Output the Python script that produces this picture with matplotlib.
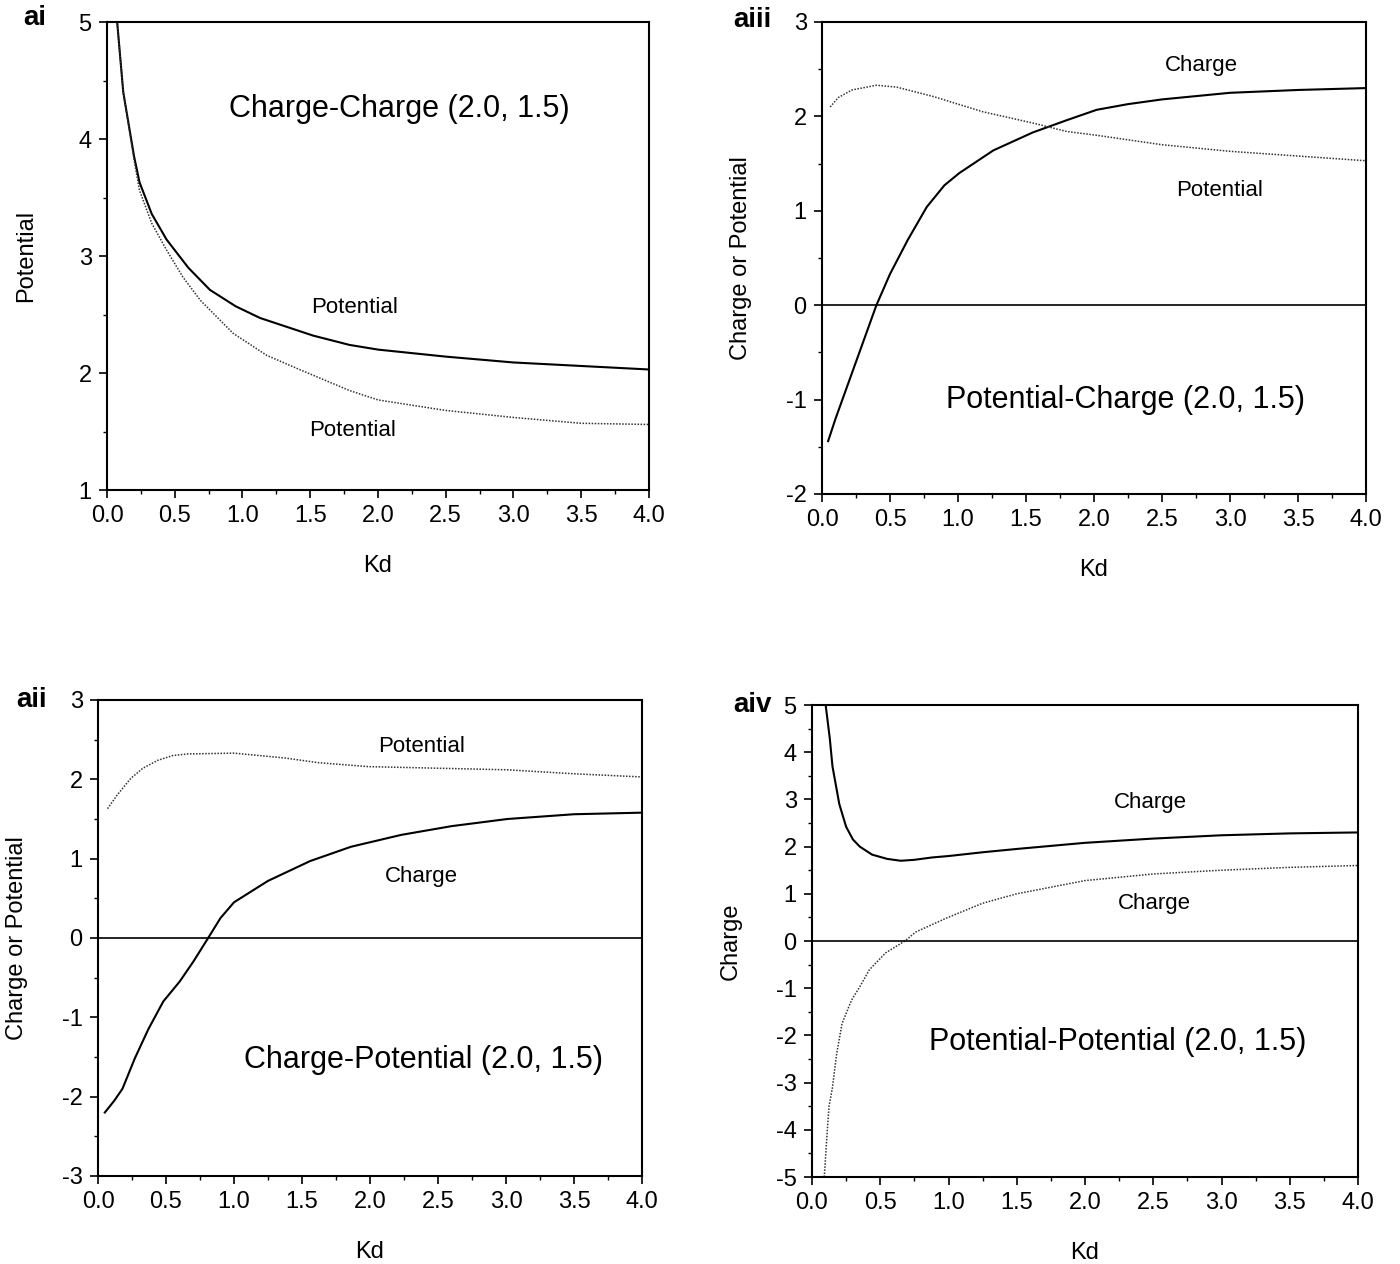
import numpy as np
import matplotlib
matplotlib.use("Agg")
import matplotlib.pyplot as plt
from matplotlib.ticker import MultipleLocator, FormatStrFormatter

plt.rcParams['font.family'] = ['Liberation Sans', 'DejaVu Sans']
plt.rcParams['axes.unicode_minus'] = False

# ai : Charge-Charge
ai_kd_solid = [0.075, 0.12, 0.2, 0.24, 0.33, 0.44, 0.6, 0.76, 0.95, 1.13, 1.52, 1.79, 2.0, 2.5, 3.0, 3.5, 4.0]
ai_pot_solid = [5.0, 4.4, 3.85, 3.63, 3.36, 3.14, 2.9, 2.71, 2.57, 2.47, 2.32, 2.24, 2.2, 2.14, 2.09, 2.06, 2.03]
ai_kd_dot = [0.075, 0.12, 0.2, 0.24, 0.33, 0.44, 0.56, 0.69, 0.93, 1.18, 1.42, 1.79, 2.0, 2.5, 3.0, 3.5, 4.0]
ai_pot_dot = [5.0, 4.4, 3.82, 3.56, 3.28, 3.05, 2.82, 2.62, 2.34, 2.15, 2.03, 1.85, 1.77, 1.68, 1.62, 1.57, 1.56]

# aiii : Potential-Charge
aiii_kd_charge = [0.045, 0.1, 0.2, 0.3, 0.4, 0.5, 0.63, 0.77, 0.9, 1.01, 1.26, 1.55, 1.8, 2.02, 2.25, 2.5, 3.0, 3.5, 4.0]
aiii_charge = [-1.44, -1.2, -0.8, -0.4, 0.0, 0.33, 0.69, 1.04, 1.27, 1.4, 1.64, 1.83, 1.96, 2.07, 2.13, 2.18, 2.25, 2.28, 2.3]
aiii_kd_pot = [0.06, 0.12, 0.22, 0.4, 0.55, 0.82, 1.0, 1.18, 1.55, 1.8, 2.02, 2.5, 3.0, 3.5, 4.0]
aiii_pot = [2.1, 2.2, 2.28, 2.33, 2.31, 2.21, 2.13, 2.05, 1.93, 1.84, 1.8, 1.7, 1.63, 1.58, 1.53]

# aii : Charge-Potential
aii_kd_pot = [0.07, 0.14, 0.24, 0.33, 0.44, 0.55, 0.66, 1.0, 1.37, 1.62, 1.99, 2.5, 3.01, 3.5, 4.0]
aii_pot = [1.63, 1.8, 2.01, 2.14, 2.24, 2.3, 2.32, 2.33, 2.27, 2.21, 2.16, 2.14, 2.12, 2.07, 2.03]
aii_kd_charge = [0.05, 0.12, 0.18, 0.27, 0.37, 0.48, 0.6, 0.7, 0.81, 0.9, 1.0, 1.25, 1.56, 1.86, 2.23, 2.6, 3.01, 3.5, 4.0]
aii_charge = [-2.2, -2.05, -1.9, -1.52, -1.15, -0.8, -0.55, -0.3, 0.0, 0.25, 0.45, 0.72, 0.97, 1.15, 1.3, 1.41, 1.5, 1.56, 1.58]

# aiv : Potential-Potential
aiv_kd_solid = [0.1, 0.13, 0.15, 0.2, 0.25, 0.3, 0.35, 0.44, 0.55, 0.65, 0.75, 0.88, 1.0, 1.25, 1.5, 2.0, 2.5, 3.0, 3.5, 4.0]
aiv_charge_solid = [5.0, 4.3, 3.7, 2.9, 2.42, 2.15, 2.0, 1.83, 1.74, 1.7, 1.72, 1.77, 1.8, 1.88, 1.95, 2.08, 2.17, 2.24, 2.28, 2.3]
aiv_kd_dot = [0.09, 0.11, 0.125, 0.15, 0.18, 0.22, 0.29, 0.35, 0.42, 0.54, 0.68, 0.76, 0.98, 1.25, 1.5, 2.0, 2.5, 3.0, 3.5, 4.0]
aiv_charge_dot = [-5.0, -4.1, -3.5, -3.1, -2.4, -1.75, -1.25, -0.97, -0.61, -0.25, 0.0, 0.19, 0.48, 0.8, 1.0, 1.28, 1.42, 1.5, 1.56, 1.6]

fig = plt.figure(figsize=(14, 12.64), dpi=100)

dot_style = dict(color='#333333', lw=1.1, linestyle=(0, (1, 1)))
solid_style = dict(color='black', lw=1.5)


def setup(ax, ylo, yhi, ylabel, width_px):
    ax.set_xlim(0, 4)
    ax.set_ylim(ylo, yhi)
    ax.xaxis.set_major_locator(MultipleLocator(0.5))
    ax.xaxis.set_minor_locator(MultipleLocator(0.25))
    ax.yaxis.set_major_locator(MultipleLocator(1))
    ax.yaxis.set_minor_locator(MultipleLocator(0.5))
    ax.xaxis.set_major_formatter(FormatStrFormatter('%.1f'))
    ax.tick_params(which='major', direction='out', length=6, width=1.2, labelsize=17, pad=5)
    ax.tick_params(which='minor', direction='out', length=3, width=1.0)
    for s in ax.spines.values():
        s.set_linewidth(1.5)
    ax.set_xlabel('Kd', fontsize=17, labelpad=20)
    ax.set_ylabel(ylabel, fontsize=17)
    # right edge of the rotated label sits ~70 px left of the axis
    ax.yaxis.set_label_coords(-70 / width_px, 0.5)


# ai
ax1 = fig.add_axes([107 / 1400, 1 - 490 / 1264, 542 / 1400, 468 / 1264])
ax1.plot(ai_kd_solid, ai_pot_solid, **solid_style)
ax1.plot(ai_kd_dot, ai_pot_dot, **dot_style)
setup(ax1, 1, 5, 'Potential', 542)
ax1.text(2.16, 4.26, 'Charge-Charge (2.0, 1.5)', fontsize=22, ha='center', va='center')
ax1.text(1.83, 2.56, 'Potential', fontsize=16, ha='center', va='center')
ax1.text(1.81, 1.51, 'Potential', fontsize=16, ha='center', va='center')

# aiii
ax3 = fig.add_axes([822 / 1400, 1 - 494 / 1264, 544 / 1400, 472 / 1264])
ax3.plot(aiii_kd_charge, aiii_charge, **solid_style)
ax3.plot(aiii_kd_pot, aiii_pot, **dot_style)
ax3.axhline(0, color='black', lw=1.2)
setup(ax3, -2, 3, 'Charge or Potential', 544)
ax3.text(2.79, 2.54, 'Charge', fontsize=16, ha='center', va='center')
ax3.text(2.92, 1.22, 'Potential', fontsize=16, ha='center', va='center')
ax3.text(2.23, -1.0, 'Potential-Charge (2.0, 1.5)', fontsize=22, ha='center', va='center')

# aii
ax2 = fig.add_axes([98 / 1400, 1 - 1176 / 1264, 544 / 1400, 476 / 1264])
ax2.plot(aii_kd_charge, aii_charge, **solid_style)
ax2.plot(aii_kd_pot, aii_pot, **dot_style)
ax2.axhline(0, color='black', lw=1.2)
setup(ax2, -3, 3, 'Charge or Potential', 544)
ax2.text(2.38, 2.41, 'Potential', fontsize=16, ha='center', va='center')
ax2.text(2.38, 0.78, 'Charge', fontsize=16, ha='center', va='center')
ax2.text(2.39, -1.54, 'Charge-Potential (2.0, 1.5)', fontsize=22, ha='center', va='center')

# aiv
ax4 = fig.add_axes([812 / 1400, 1 - 1177 / 1264, 546 / 1400, 472 / 1264])
ax4.plot(aiv_kd_solid, aiv_charge_solid, **solid_style)
ax4.plot(aiv_kd_dot, aiv_charge_dot, **dot_style)
ax4.axhline(0, color='black', lw=1.2)
setup(ax4, -5, 5, 'Charge', 546)
ax4.text(2.48, 2.93, 'Charge', fontsize=16, ha='center', va='center')
ax4.text(2.51, 0.79, 'Charge', fontsize=16, ha='center', va='center')
ax4.text(2.24, -2.15, 'Potential-Potential (2.0, 1.5)', fontsize=22, ha='center', va='center')

# panel labels
fig.text(35 / 1400, 1 - 18 / 1264, 'ai', fontsize=20, fontweight='bold', ha='center', va='center')
fig.text(752 / 1400, 1 - 20 / 1264, 'aiii', fontsize=20, fontweight='bold', ha='center', va='center')
fig.text(32 / 1400, 1 - 700 / 1264, 'aii', fontsize=20, fontweight='bold', ha='center', va='center')
fig.text(752 / 1400, 1 - 705 / 1264, 'aiv', fontsize=20, fontweight='bold', ha='center', va='center')

fig.savefig('out.png', dpi=100, facecolor='white')
